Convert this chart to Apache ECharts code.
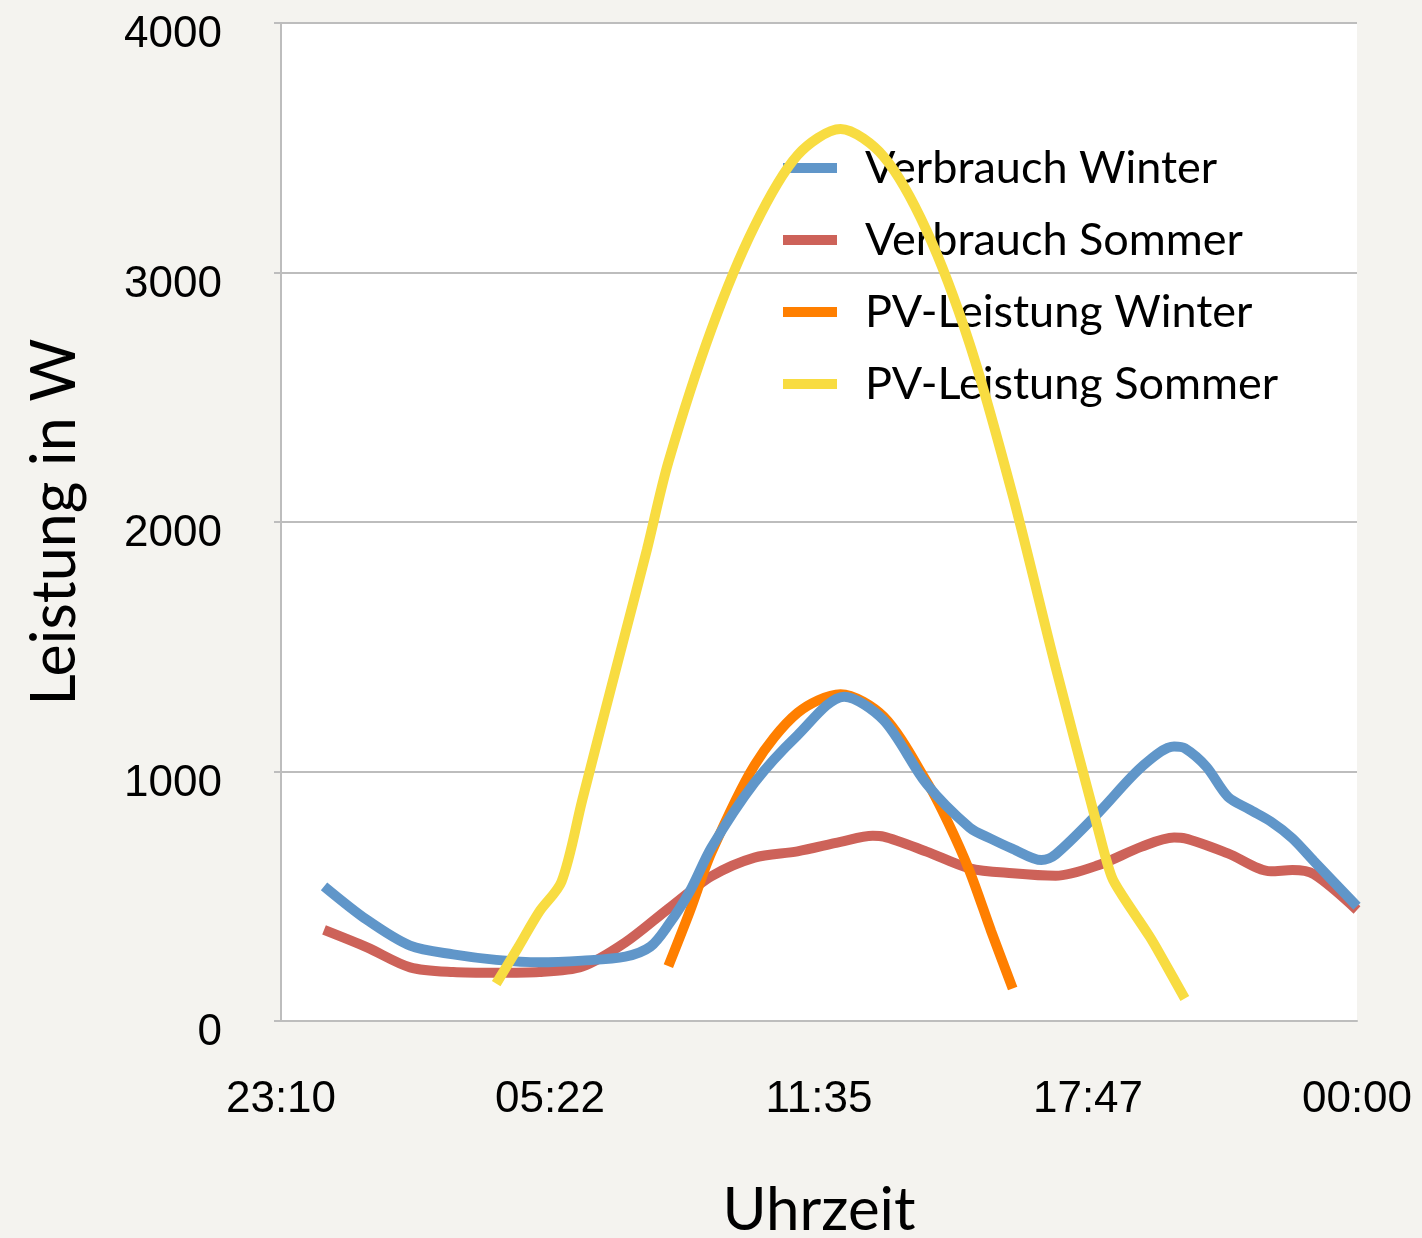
<!DOCTYPE html>
<html>
<head>
<meta charset="utf-8">
<title>Leistung</title>
<script src="https://cdn.jsdelivr.net/npm/echarts@6/dist/echarts.min.js"></script>
<style>
  html, body { margin: 0; padding: 0; background: #f4f3ef; }
  #main { width: 1422px; height: 1238px; }
</style>
</head>
<body>
<div id="main"></div>
<script>
// Beschriftung der Zeitachse (Achse beginnt 23:00 am Vortag, Schritt 375 min)
const xTickLabels = ['23:10', '05:22', '11:35', '17:47', '00:00'];

const seriesNames = ['Verbrauch Winter', 'Verbrauch Sommer', 'PV-Leistung Winter', 'PV-Leistung Sommer'];
const seriesColors = ['#6096c9', '#cd6259', '#ff7f00', '#f8dc41'];

// Verbrauch Winter
const winterLoadTimes = ['00:00','01:00','02:00','03:00','04:00','05:00','06:00','07:00','07:35','08:00','08:30','09:00',
  '10:00','11:00','12:05','13:00','14:00','15:00','15:30','16:00','16:40','17:00','18:00','19:00','19:45','20:00','20:30',
  '21:00','21:30','22:00','22:30','23:00','24:00'];
const winterLoad = [540, 405, 302, 267, 245, 235, 242, 258, 298, 385, 520, 695,
  955, 1145, 1300, 1206, 950, 775, 730, 690, 645, 668, 836, 1019, 1100, 1093, 1019,
  899, 848, 799, 732, 640, 460];

// Verbrauch Sommer
const summerLoadTimes = ['00:00','01:00','02:00','03:00','04:00','05:00','06:00','07:00','08:00','09:00','10:00','11:00',
  '12:00','12:45','13:00','14:00','15:00','16:00','17:00','18:00','19:00','19:45','20:00','21:00','22:00','22:30',
  '23:00','24:00'];
const summerLoad = [365, 295, 215, 196, 193, 196, 218, 315, 450, 580, 655, 680,
  718, 742, 739, 679, 612, 592, 582, 625, 699, 735, 732, 672, 600, 605,
  588, 445];

// PV-Leistung Winter
const winterPvTimes = ['08:00','08:30','09:00','10:00','11:00','12:00','13:00','14:00','14:30','15:00','15:30','16:00'];
const winterPv = [220, 440, 675, 1025, 1235, 1310, 1220, 960, 795, 600, 360, 130];

// PV-Leistung Sommer
const summerPvTimes = ['04:00','04:30','05:00','05:31','06:00','06:30','07:00','07:30','08:00','09:00','10:00','11:00',
  '12:00','13:00','14:00','15:00','16:00','17:00','18:00','18:18','18:34','19:11','19:30','20:00'];
const summerPv = [150, 292, 438, 558, 886, 1222, 1555, 1888, 2240, 2772, 3185, 3470,
  3575, 3465, 3168, 2714, 2107, 1417, 759, 578, 498, 338, 244, 90];

// Minuten seit Achsenbeginn (23:00 Vortag)
function toAxis(hhmm) {
  const p = hhmm.split(':');
  return Number(p[0]) * 60 + Number(p[1]) + 60;
}
function pairs(times, values) {
  return times.map((t, i) => [toAxis(t), values[i]]);
}

const lineData = [
  pairs(winterLoadTimes, winterLoad),
  pairs(summerLoadTimes, summerLoad),
  pairs(winterPvTimes, winterPv),
  pairs(summerPvTimes, summerPv)
];
const zOrder = [3, 1, 2, 4];

const chart = echarts.init(document.getElementById('main'));
chart.setOption({
  backgroundColor: '#f4f3ef',
  animation: false,
  grid: {
    left: 281, right: 65, top: 23, bottom: 217,
    outerBoundsMode: 'none',
    show: true, backgroundColor: '#ffffff', borderWidth: 0
  },
  legend: {
    orient: 'vertical',
    left: 783, top: 132,
    padding: 0,
    icon: 'rect',
    itemWidth: 54, itemHeight: 10,
    itemGap: 0,
    data: seriesNames,
    textStyle: {
      fontFamily: 'Lato', fontSize: 45, color: '#000',
      lineHeight: 50, padding: [22, 0, 0, 23]
    }
  },
  xAxis: {
    type: 'value',
    min: 0, max: 1500, interval: 375,
    name: 'Uhrzeit',
    nameLocation: 'middle',
    nameGap: 160,
    nameTextStyle: { fontFamily: 'Lato', fontSize: 60, color: '#000' },
    axisLine: { show: true, lineStyle: { color: '#bdbdbd', width: 2 } },
    axisTick: { show: false },
    splitLine: { show: false },
    axisLabel: {
      margin: 57,
      fontFamily: 'Liberation Sans', fontSize: 44, color: '#000',
      formatter: v => xTickLabels[Math.round(v / 375)]
    }
  },
  yAxis: {
    type: 'value',
    min: 0, max: 4000, interval: 1000,
    name: 'Leistung in W',
    nameLocation: 'middle',
    nameGap: 195,
    nameTextStyle: { fontFamily: 'Lato', fontSize: 61, color: '#000' },
    axisLine: { show: true, lineStyle: { color: '#bdbdbd', width: 2 } },
    axisTick: { show: true, length: 7, lineStyle: { color: '#bdbdbd', width: 2 } },
    splitLine: { lineStyle: { color: '#bdbdbd', width: 2 } },
    axisLabel: {
      margin: 59,
      formatter: v => '{v|' + v + '}',
      rich: {
        v: { fontFamily: 'Liberation Sans', fontSize: 44, color: '#000', padding: [24, 0, 0, 0] }
      }
    }
  },
  series: seriesNames.map((name, i) => ({
    name: name,
    type: 'line',
    data: lineData[i],
    smooth: 0.3,
    symbol: 'none',
    z: zOrder[i],
    lineStyle: { width: 10, color: seriesColors[i], cap: 'butt' },
    itemStyle: { color: seriesColors[i] }
  }))
});
</script>
</body>
</html>
